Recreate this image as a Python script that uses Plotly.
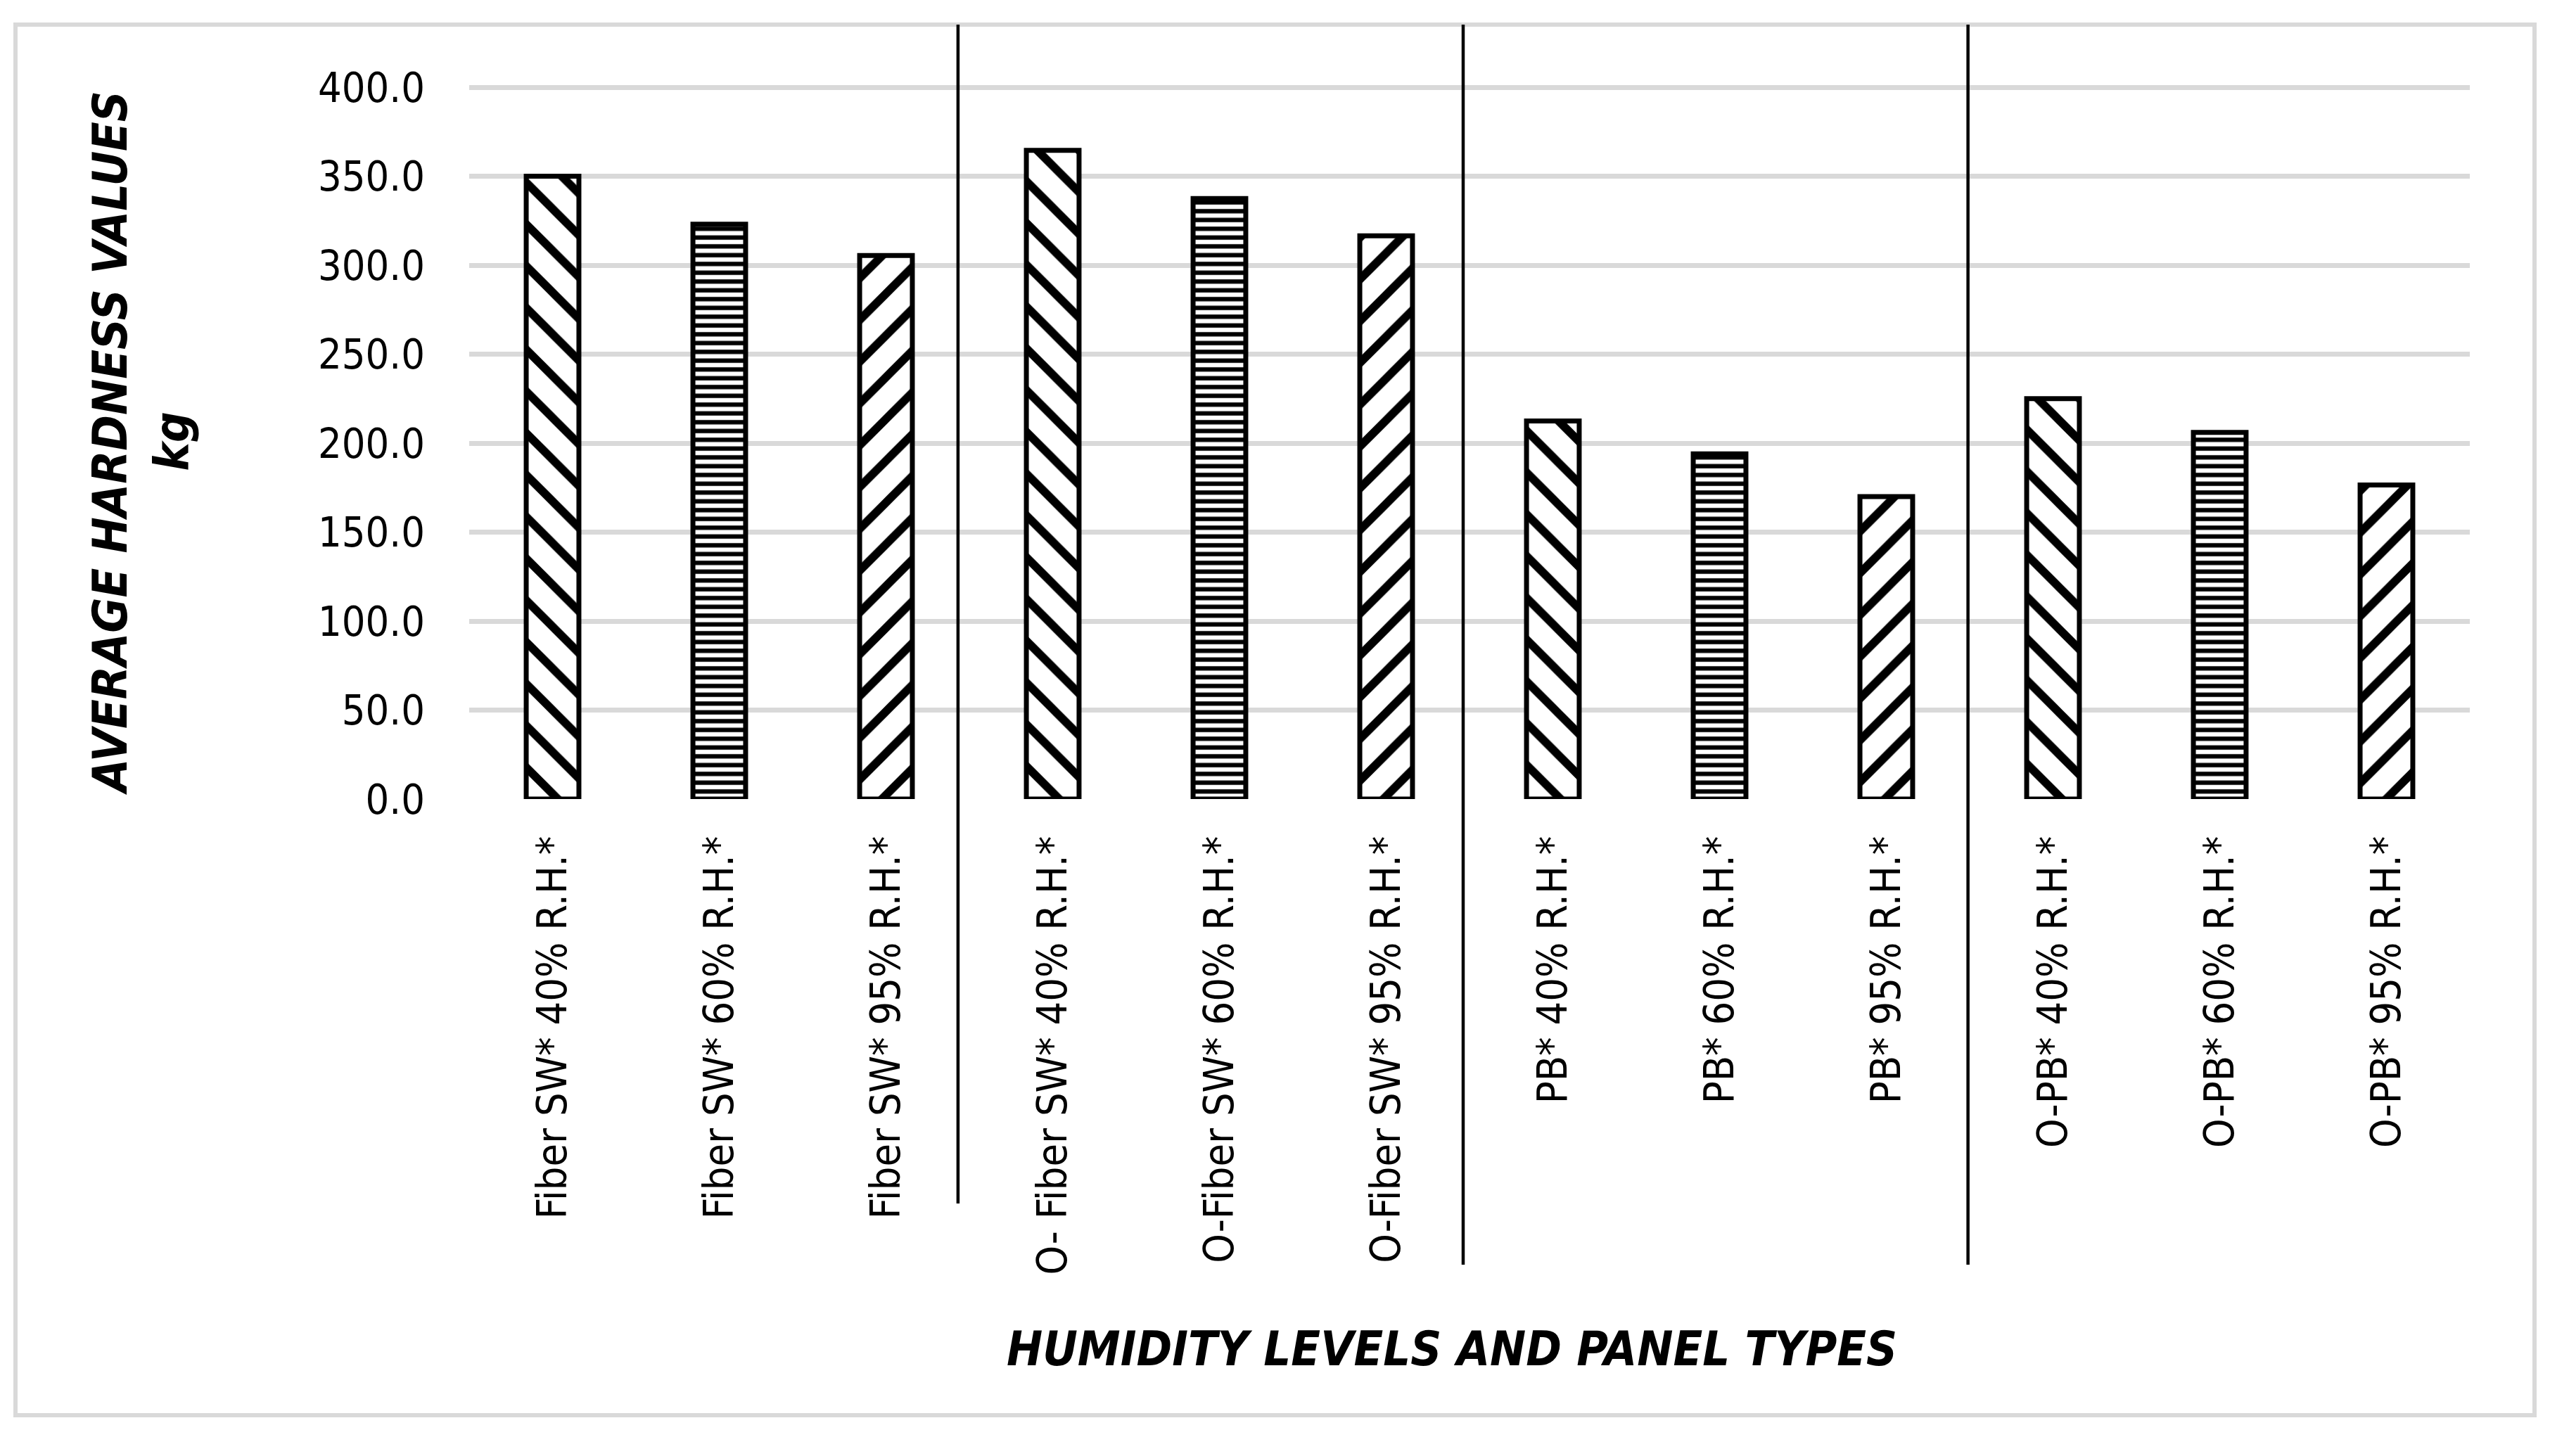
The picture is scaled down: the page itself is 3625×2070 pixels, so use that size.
import plotly.graph_objects as go

categories = [
    "Fiber SW* 40% R.H.*", "Fiber SW* 60% R.H.*", "Fiber SW* 95% R.H.*",
    "O- Fiber SW* 40% R.H.*", "O-Fiber SW* 60% R.H.*", "O-Fiber SW* 95% R.H.*",
    "PB* 40% R.H.*", "PB* 60% R.H.*", "PB* 95% R.H.*",
    "O-PB* 40% R.H.*", "O-PB* 60% R.H.*", "O-PB* 95% R.H.*",
]
hardness = [350, 323, 305.5, 364.5, 337.5, 316.5, 212.5, 194, 170, 225, 206, 176.5]
patterns = ["\\", "-", "/"] * 4
y_ticks = [0, 50, 100, 150, 200, 250, 300, 350, 400]

W, H = 3625, 2070
YMAX = 402                      # a little headroom so the 400 gridline is drawn
L, R, B = 659, 3503, 1128       # plot area in pixels (0 at B, 400 at 116)
T = B - (B - 116) * YMAX / 400


def px(xp):
    return (xp - L) / (R - L)


def py(yp):
    return (B - yp) / (B - T)


fig = go.Figure()
fig.add_trace(go.Bar(
    x=categories,
    y=hardness,
    marker=dict(
        color="white",
        line=dict(color="black", width=7),
        pattern=dict(shape=patterns, fgcolor="black", bgcolor="white",
                     size=[42, 12.5, 42] * 4, solidity=[0.28, 0.5, 0.28] * 4,
                     fillmode="replace"),
    ),
    showlegend=False,
))

TICKFONT = dict(family="DejaVu Sans Condensed, DejaVu Sans, sans-serif", size=59, color="black")
TITLEFONT = "DejaVu Sans Condensed, DejaVu Sans, sans-serif"

fig.update_layout(
    width=W, height=H,
    margin=dict(l=L, r=W - R, t=T, b=H - B, pad=0),
    paper_bgcolor="white", plot_bgcolor="white",
    bargap=0.684,
    xaxis=dict(
        type="category", tickangle=-90, tickfont=TICKFONT,
        showgrid=False, showline=False, zeroline=False, ticks="",
        ticklabelstandoff=40,
    ),
    yaxis=dict(
        range=[0, YMAX], tickvals=y_ticks, tickformat=".1f", tickfont=TICKFONT,
        showgrid=True, gridcolor="#d9d9d9", gridwidth=6.5,
        zeroline=False, showline=False, ticks="", ticklabelstandoff=62,
    ),
)

# outer chart border
fig.add_shape(type="rect", xref="paper", yref="paper",
              x0=px(14), x1=px(3595), y0=py(2004), y1=py(27),
              line=dict(color="#d9d9d9", width=6), layer="below")

# hand-drawn group separators (x in category index units)
sep_x = [2.432, 5.462, 8.49]
sep_bottom = [1703, 1790, 1790]
for xs, yb in zip(sep_x, sep_bottom):
    fig.add_shape(type="line", xref="x", yref="paper",
                  x0=xs, x1=xs, y0=py(yb), y1=py(27),
                  line=dict(color="black", width=4.5))

fig.add_annotation(
    text="<b><i>AVERAGE HARDNESS VALUES<br>kg</i></b>",
    xref="paper", yref="paper", x=px(192), y=py(622),
    xanchor="center", yanchor="middle", textangle=-90, showarrow=False,
    align="center", font=dict(family=TITLEFONT, size=68, color="black"),
)
fig.add_annotation(
    text="<b><i>HUMIDITY LEVELS AND PANEL TYPES</i></b>",
    xref="paper", yref="paper", x=px(2056), y=py(1910),
    xanchor="center", yanchor="middle", showarrow=False,
    font=dict(family=TITLEFONT, size=68, color="black"),
)

fig.write_html("out.html")
